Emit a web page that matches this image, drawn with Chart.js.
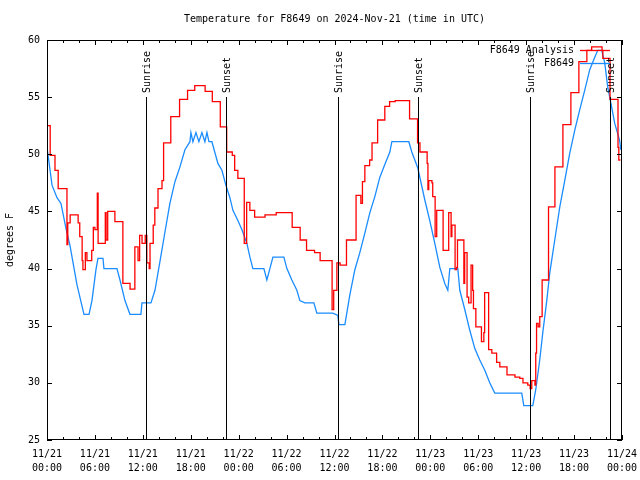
<!DOCTYPE html>
<html lang="en">
<head>
<meta charset="UTF-8">
<title>Temperature for F8649</title>
<style>
  body { margin:0; background:#fff; }
</style>
</head>
<body>
<canvas id="chart" width="640" height="480"></canvas>
<script src="https://cdn.jsdelivr.net/npm/chart.js"></script>
<script>
// hours since 2024-11-21 00:00 UTC
const analysisHours = [0,0.4,1.0,1.4,2.5,2.6,2.9,3.9,4.1,4.4,4.5,4.8,5.0,5.6,5.8,6.0,6.3,6.4,7.3,7.4,7.6,8.5,9.5,10.4,11.0,11.4,11.6,11.9,12.3,12.5,12.8,12.9,13.3,13.5,13.9,14.4,14.6,15.5,16.6,17.6,18.5,19.8,20.7,21.7,22.5,23.2,23.5,23.9,24.7,25.0,25.4,26.0,27.3,28.7,30.7,31.7,32.5,33.5,34.2,35.7,35.9,36.3,36.7,37.5,38.7,39.3,39.5,39.8,40.4,40.7,41.4,42.3,42.9,43.6,45.4,46.4,46.7,47.6,47.7,47.8,48.2,48.3,48.6,48.8,49.6,50.3,50.6,50.7,51.1,51.3,51.4,52.2,52.3,52.6,52.8,53.1,53.3,53.4,53.7,54.4,54.7,54.8,55.3,55.7,56.3,56.7,57.6,58.6,59.2,59.6,60.2,60.5,60.7,61.1,61.2,61.3,61.5,61.7,62.0,62.8,63.6,64.6,65.6,66.6,67.6,68.2,69.5,69.6,70.5,71.5,71.6,71.8];
const analysisTemps = [52.5,49.9,48.6,47.0,42.1,44.0,44.7,44.0,42.8,40.7,39.9,41.4,40.7,41.6,43.6,43.4,46.6,42.2,44.9,42.5,45.0,44.1,38.7,38.2,41.9,40.7,42.9,42.2,42.9,40.5,40.0,42.2,43.8,45.3,47.0,47.7,51.0,53.3,54.8,55.6,56.0,55.5,54.6,52.4,50.2,49.9,48.6,47.9,42.2,45.8,45.1,44.5,44.7,44.9,43.6,42.5,41.6,41.4,40.7,36.4,38.1,40.5,40.3,42.5,46.4,45.7,47.6,49.0,49.5,51.0,53.0,54.2,54.6,54.7,53.1,51.0,50.2,49.2,46.9,47.7,47.5,46.3,42.8,45.1,41.6,44.9,42.8,43.8,39.9,40.1,42.5,38.7,41.4,37.5,37.0,40.3,38.1,36.5,34.9,33.6,34.4,37.9,32.9,32.6,31.8,31.4,30.7,30.5,30.4,30.0,29.8,29.5,30.2,29.8,32.6,35.2,34.9,35.8,39.0,45.4,48.9,52.6,55.4,58.1,59.1,59.4,59.1,58.4,54.8,50.6,49.5,49.5];

const obsHours = [0,0.63,1.25,1.75,2.38,2.88,3.75,4.63,5.26,5.63,6.13,6.38,7.01,7.13,8.76,9.14,9.76,10.39,11.76,11.89,13.02,13.52,14.14,14.77,15.39,16.02,16.65,17.27,17.9,18.02,18.27,18.65,19.02,19.4,19.77,20.03,20.28,20.65,21.4,21.9,22.4,22.9,23.28,23.9,24.41,25.03,25.41,25.78,27.16,27.53,27.91,28.29,29.66,30.04,30.66,31.29,31.66,32.29,33.42,33.79,35.79,36.42,36.55,37.3,37.92,38.55,39.17,39.8,40.43,41.05,41.68,42.3,42.93,43.18,45.31,45.68,46.43,47.31,47.93,48.56,49.19,49.81,50.19,50.44,51.44,51.69,52.32,52.94,53.57,54.19,54.82,55.44,56.07,59.45,59.7,60.83,61.2,61.7,62.08,62.58,62.95,63.58,64.21,64.83,65.46,66.08,66.71,67.33,67.96,68.59,68.96,69.46,69.84,70.21,70.71,71.09,71.71,71.84];
const obsTemps = [50.6,47.3,46.2,45.7,43.5,42.0,38.6,36.0,36.0,37.2,39.9,40.9,40.9,40.0,40.0,39.0,37.2,36.0,36.0,37.0,37.0,38.1,40.6,43.2,45.7,47.6,48.9,50.4,51.1,51.9,51.1,51.9,51.1,51.9,51.1,51.9,51.1,51.1,49.2,48.6,47.3,46.2,45.1,44.2,43.4,42.2,41.0,40.0,40.0,39.0,40.0,41.0,41.0,40.0,39.0,38.1,37.2,37.0,37.0,36.1,36.1,35.9,35.1,35.1,37.7,39.9,41.4,43.1,44.9,46.3,48.0,49.1,50.2,51.1,51.1,50.2,48.8,46.0,44.2,42.2,40.1,38.7,38.1,40.0,40.0,38.1,36.4,34.6,33.0,32.0,31.1,30.0,29.1,29.1,28.0,28.0,29.4,32.0,34.4,37.2,39.6,42.5,45.4,47.7,50.1,52.1,53.9,55.6,57.4,58.5,59.1,59.1,58.0,55.9,54.1,52.7,51.2,50.4];

const sunHours  = [12.4, 22.4, 36.4, 46.4, 60.45, 70.5];
const sunLabels = ['Sunrise', 'Sunset', 'Sunrise', 'Sunset', 'Sunrise', 'Sunset'];

const tickDates = ['11/21','11/21','11/21','11/21','11/22','11/22','11/22','11/22','11/23','11/23','11/23','11/23','11/24'];
const tickTimes = ['00:00','06:00','12:00','18:00','00:00','06:00','12:00','18:00','00:00','06:00','12:00','18:00','00:00'];

const FONT = 'DejaVu Sans Mono';
Chart.defaults.font.family = FONT;
Chart.defaults.font.size = 10;
Chart.defaults.color = '#000';

// border, inward ticks, sunrise/sunset markers and the legend
const framePlugin = {
  id: 'frame',
  afterDatasetsDraw(chart) {
    const { ctx, chartArea: a, scales: { x, y } } = chart;
    ctx.save();
    ctx.strokeStyle = '#000';
    ctx.lineWidth = 1;

    // sun lines
    const top55 = Math.round(y.getPixelForValue(55));
    ctx.font = '10px ' + FONT;
    ctx.fillStyle = '#000';
    sunHours.forEach((h, i) => {
      const px = Math.round(x.getPixelForValue(h)) + 0.5;
      ctx.beginPath();
      ctx.moveTo(px, top55);
      ctx.lineTo(px, a.bottom);
      ctx.stroke();
      ctx.save();
      ctx.translate(px + 1, top55 - 4);
      ctx.rotate(-Math.PI / 2);
      ctx.textAlign = 'left';
      ctx.textBaseline = 'middle';
      ctx.fillText(sunLabels[i], 0, 0);
      ctx.restore();
    });

    // frame
    ctx.strokeRect(a.left + 0.5, a.top + 0.5, a.right - a.left - 1, a.bottom - a.top - 1);

    // x ticks every 2 h, top and bottom
    ctx.beginPath();
    for (let h = 0; h <= 72; h += 2) {
      const px = Math.round(x.getPixelForValue(h)) + 0.5;
      const len = h % 6 === 0 ? 5 : 3;
      ctx.moveTo(px, a.bottom);
      ctx.lineTo(px, a.bottom - len);
      ctx.moveTo(px, a.top);
      ctx.lineTo(px, a.top + len);
    }
    // y ticks every 5, left and right
    for (let v = 25; v <= 60; v += 5) {
      const py = Math.round(y.getPixelForValue(v)) + 0.5;
      ctx.moveTo(a.left, py);
      ctx.lineTo(a.left + 5, py);
      ctx.moveTo(a.right, py);
      ctx.lineTo(a.right - 5, py);
    }
    ctx.stroke();

    // legend
    ctx.textAlign = 'right';
    ctx.textBaseline = 'middle';
    chart.data.datasets.forEach((ds, i) => {
      const ly = a.top + 10 + i * 13 + 0.5;
      ctx.fillStyle = '#000';
      ctx.fillText(ds.label, a.right - 48, ly);
      ctx.strokeStyle = ds.borderColor;
      ctx.lineWidth = 1.3;
      ctx.beginPath();
      ctx.moveTo(a.right - 42, ly);
      ctx.lineTo(a.right - 12, ly);
      ctx.stroke();
    });
    ctx.restore();
  }
};

new Chart(document.getElementById('chart'), {
  type: 'line',
  data: {
    datasets: [
      {
        label: 'F8649 Analysis',
        data: analysisHours.map((h, i) => ({ x: h, y: analysisTemps[i] })),
        borderColor: '#ff0000',
        borderWidth: 1.3,
        pointRadius: 0,
        stepped: 'before',
        fill: false
      },
      {
        label: 'F8649',
        data: obsHours.map((h, i) => ({ x: h, y: obsTemps[i] })),
        borderColor: '#1a8cff',
        borderWidth: 1.3,
        pointRadius: 0,
        tension: 0,
        fill: false
      }
    ]
  },
  options: {
    responsive: false,
    animation: false,
    layout: { padding: { right: 18 } },
    plugins: {
      legend: { display: false },
      tooltip: { enabled: false },
      title: {
        display: true,
        fullSize: false,
        text: 'Temperature for F8649 on 2024-Nov-21 (time in UTC)',
        color: '#000',
        font: { family: FONT, size: 10, weight: 'normal' },
        padding: { top: 13, bottom: 15 }
      }
    },
    scales: {
      x: {
        type: 'linear',
        min: 0,
        max: 72,
        grid: { display: false, drawTicks: false },
        border: { display: false },
        ticks: {
          stepSize: 6,
          autoSkip: false,
          maxRotation: 0,
          padding: 7,
          font: { lineHeight: 1.4 },
          callback: (v, i) => [tickDates[i], tickTimes[i]]
        },
        afterFit: (s) => { s.height = 40; s.paddingLeft = 0; s.paddingRight = 0; }
      },
      y: {
        min: 25,
        max: 60,
        grid: { display: false, drawTicks: false },
        border: { display: false },
        ticks: { stepSize: 5, padding: 7 },
        title: { display: true, text: 'degrees F', padding: { top: 4, bottom: 0 } },
        afterFit: (s) => { s.width = 47; s.paddingTop = 0; s.paddingBottom = 0; }
      }
    }
  },
  plugins: [framePlugin]
});
</script>
</body>
</html>
